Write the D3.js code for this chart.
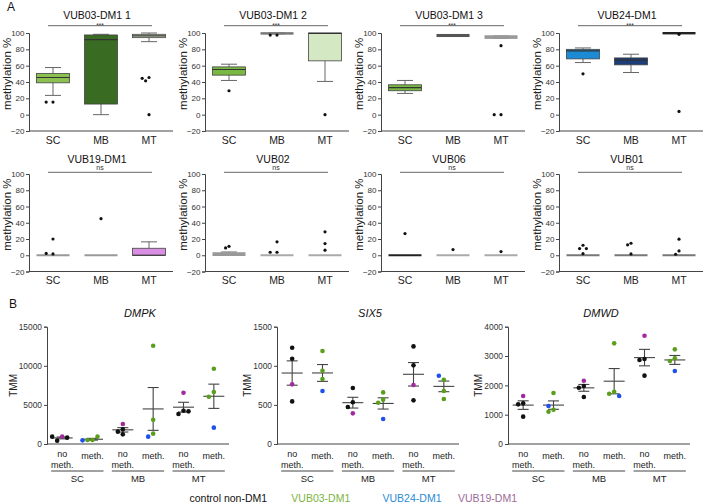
<!DOCTYPE html>
<html><head><meta charset="utf-8">
<script src="https://cdn.jsdelivr.net/npm/d3@7"></script>
<style>body{margin:0;background:#fff;} text{font-family:"Liberation Sans",Arial,sans-serif;}</style>
</head><body><svg id="c" width="709" height="504"></svg>
<script>
// ---------- Panel A data ----------
const catsA = ["SC","MB","MT"];
const titlesA = ["VUB03-DM1 1","VUB03-DM1 2","VUB03-DM1 3","VUB24-DM1","VUB19-DM1","VUB02","VUB06","VUB01"];
const sigA = ["***","***","***","***","ns","ns","ns","ns"];
const ticksA = [-20,0,20,40,60,80,100];
// [whiskerLow, q1, median, q3, whiskerHigh] for SC, MB, MT
const boxA = [
  [[23.6,39,45.5,50.4,57.7],[0,13,92,97.6,98.4],[89.4,94.3,96.5,98.4,100]],
  [[41.9,48.4,55.3,58.5,61.8],[99,99.2,99.5,99.8,100],[40.7,65.9,99.5,100,100]],
  [[26,29.3,33,36.6,41.9],[96,96.3,97,97.6,97.8],[93.5,94,95,96,96.3]],
  [[63.8,68.3,78,80,81.7],[51.6,61,66.7,69.5,74],[99.5,99.5,100,100,100]],
  [[0,0,0,0,0],[0,0,0,0,0],[0,0,0,8.6,16.5]],
  [[0,0.3,1,2.5,4],[0,0,0,0,0],[0,0,0,0,0]],
  [[0,0,0,0,0],[0,0,0,0,0],[0,0,0,0,0]],
  [[0,0,0,0,0],[0,0,0,0,0],[0,0,0,0,0]]
];
const outA = [
  [[15.4,15.4],[],[45.5,44.5,41.5,0]],
  [[29.3],[97.5,97.5],[0]],
  [[],[],[84.5,0,0]],
  [[50],[],[98.4,4]],
  [[20,1.6,2.2],[45],[]],
  [[11,9],[16.5,3.7,3.7],[28.8,14.4,6.2]],
  [[26.7],[7],[4.5]],
  [[12.3,8.2,8.2,2],[14.8,12.8,1.6],[19.8,5.3,1.2]]
];
const boxFillA = [
  ["#8cc152","#3a6b22","#d5e8c4"],
  ["#78b843","#777777","#d5e8c4"],
  ["#78b843","#555555","#999999"],
  ["#1b8bd6","#1b3d78","#222222"],
  ["#999999","#999999","#d98fe3"],
  ["#999999","#aaaaaa","#aaaaaa"],
  ["#222222","#aaaaaa","#aaaaaa"],
  ["#777777","#777777","#777777"]
];

// ---------- Panel B data ----------
const genes = ["DMPK","SIX5","DMWD"];
const groupsB = ["SC","MB","MT"];
const condB = ["no meth.","meth."];
const yMaxB = [15000,1500,4000];
const yTicksB = [[0,5000,10000,15000],[0,500,1000,1500],[0,1000,2000,3000,4000]];
const linesNoMeth = ["VUB19-DM1","control non-DM1","control non-DM1","control non-DM1"];
const linesMeth = ["VUB03-DM1","VUB03-DM1","VUB03-DM1","VUB24-DM1"];
// order: SC no, SC meth, MB no, MB meth, MT no, MT meth
const dmpk = [[937,426,810,937],[511,511,937,469],[2557,1236,1577,1875],[12570,3110,1321,937],[6562,4261,3835,4176],[9630,6647,6051,2088]];
const six5 = [[763,1231,1091,545],[1189,937,831,677],[392,716,533,473],[660,567,528,320],[754,1248,1006,558],[822,677,575,873]];
const dmwd = [[1636,1386,1352,932],[1739,1170,1102,1295],[2159,1977,1920,1602],[3432,1784,1716,1636],[3693,2898,2864,2330],[3227,2920,2830,2489]];
const valuesB = [dmpk, six5, dmwd];
const legendLines = ["control non-DM1","VUB03-DM1","VUB24-DM1","VUB19-DM1"];
const pointColor = {"control non-DM1":"#111111","VUB03-DM1":"#5a9e1c","VUB24-DM1":"#1f50ee","VUB19-DM1":"#a02a9e"};
const legendColor = {"control non-DM1":"#111111","VUB03-DM1":"#7cb342","VUB24-DM1":"#2b8ad6","VUB19-DM1":"#9e6a99"};

const svg = d3.select("#c");

function dodge(vals, y, cx, r, step){
  const placed = [];
  return vals.map(v => {
    const py = y(v);
    for (let k = 0; k < 30; k++) {
      const off = k === 0 ? 0 : (k % 2 ? -1 : 1) * Math.ceil(k/2) * step;
      const px = cx + off;
      if (placed.every(p => Math.hypot(p[0]-px, p[1]-py) >= 2*r + 0.3)) { placed.push([px,py]); return [px,py]; }
    }
    return [cx, py];
  });
}

function styleAxis(g){
  g.select(".domain").attr("stroke","#444");
  g.selectAll(".tick line").attr("stroke","#444");
  g.selectAll(".tick text").attr("fill","#333");
}

// ---------- Panel A ----------
const axXA = [29,205,381,559];
const rowYA = [[131,33],[271.5,174]];
const titleYA = [19,162.5], lineYA = [25.7,172.3];

svg.append("text").attr("x",7).attr("y",11).attr("font-size",12).attr("fill","#111").text("A");

titlesA.forEach((t,i) => {
  const row = Math.floor(i/4), col = i%4, x0 = axXA[col];
  const x = d3.scaleBand().domain(catsA).range([x0, x0+144]).paddingInner(0.3125).paddingOuter(0.156);
  const y = d3.scaleLinear().domain([-20,100]).range(rowYA[row]);
  const g = svg.append("g");
  const ya = g.append("g").attr("transform",`translate(${x0},0)`)
    .call(d3.axisLeft(y).tickValues(ticksA).tickSize(3).tickPadding(1.5));
  ya.selectAll(".tick text").attr("font-size",8).attr("font-family","Liberation Sans, Arial, sans-serif");
  styleAxis(ya);
  g.append("line").attr("x1",x0).attr("x2",x0+144).attr("y1",y(-20)).attr("y2",y(-20)).attr("stroke","#444");
  catsA.forEach(c => g.append("text").attr("x",x(c)+x.bandwidth()/2).attr("y",y(-20)+12.5)
    .attr("text-anchor","middle").attr("font-size",10.5).attr("fill","#222").text(c));
  g.append("text").attr("transform",`translate(${x0-18},${(y(0)+y(100))/2}) rotate(-90)`)
    .attr("text-anchor","middle").attr("font-size",11.5).attr("fill","#222").text("methylation %");
  g.append("text").attr("x",x0+68).attr("y",titleYA[row]).attr("text-anchor","middle")
    .attr("font-size",10.5).attr("fill","#111").text(t);
  const bx1 = x("SC")+x.bandwidth()/2-5, bx2 = x("MT")+x.bandwidth()/2+3;
  g.append("line").attr("x1",bx1).attr("x2",bx2).attr("y1",lineYA[row]).attr("y2",lineYA[row]).attr("stroke","#666");
  g.append("text").attr("x",(bx1+bx2)/2).attr("y",row===0?lineYA[row]+1.8:lineYA[row]-2)
    .attr("text-anchor","middle").attr("font-size",row===0?6.5:7).attr("fill","#333").text(sigA[i]);
  catsA.forEach((c,j) => {
    const [lo,q1,md,q3,hi] = boxA[i][j];
    const bx = x(c), bw = x.bandwidth(), cx = bx + bw/2;
    const fill = boxFillA[i][j];
    if (hi > q3) {
      g.append("line").attr("x1",cx).attr("x2",cx).attr("y1",y(q3)).attr("y2",y(hi)).attr("stroke","#666");
      g.append("line").attr("x1",cx-8).attr("x2",cx+8).attr("y1",y(hi)).attr("y2",y(hi)).attr("stroke","#666");
    }
    if (lo < q1) {
      g.append("line").attr("x1",cx).attr("x2",cx).attr("y1",y(q1)).attr("y2",y(lo)).attr("stroke","#666");
      g.append("line").attr("x1",cx-8).attr("x2",cx+8).attr("y1",y(lo)).attr("y2",y(lo)).attr("stroke","#666");
    }
    const h = y(q1) - y(q3);
    if (h > 2) {
      g.append("rect").attr("x",bx).attr("y",y(q3)).attr("width",bw).attr("height",h)
        .attr("fill",fill).attr("stroke","#444").attr("stroke-width",0.8);
      g.append("line").attr("x1",bx).attr("x2",bx+bw).attr("y1",y(md)).attr("y2",y(md)).attr("stroke","#333").attr("stroke-width",1.2);
    } else {
      g.append("rect").attr("x",bx).attr("y",y(q3)-1).attr("width",bw).attr("height",Math.max(h,0)+2).attr("fill",fill);
    }
    dodge(outA[i][j], y, cx, 1.6, 3.4).forEach(p =>
      g.append("circle").attr("cx",p[0]).attr("cy",p[1]).attr("r",1.6).attr("fill","#111"));
  });
});

// ---------- Panel B ----------
svg.append("text").attr("x",9).attr("y",308).attr("font-size",12).attr("fill","#111").text("B");
const axXB = [47,277,508];
const keysB = groupsB.flatMap(gp => condB.map(cd => gp+"|"+cd));
genes.forEach((gene,gi) => {
  const x0 = axXB[gi];
  const x = d3.scaleBand().domain(keysB).range([x0, x0+182]);
  const y = d3.scaleLinear().domain([0,yMaxB[gi]]).range([444,326.7]);
  const g = svg.append("g");
  const ya = g.append("g").attr("transform",`translate(${x0},0)`)
    .call(d3.axisLeft(y).tickValues(yTicksB[gi]).tickSize(3).tickPadding(2).tickFormat(d3.format("d")));
  ya.selectAll(".tick text").attr("font-size",8.4).attr("font-family","Liberation Sans, Arial, sans-serif");
  styleAxis(ya);
  g.append("line").attr("x1",x0).attr("x2",x0+182).attr("y1",y(0)).attr("y2",y(0)).attr("stroke","#444");
  g.append("text").attr("x",x0+93).attr("y",317).attr("text-anchor","middle").attr("font-size",11)
    .attr("font-style","italic").attr("fill","#111").text(gene);
  g.append("text").attr("transform",`translate(${x0-(gi===0?34:30)+3.5},${(y(0)+y(yMaxB[gi]))/2}) rotate(-90)`)
    .attr("text-anchor","middle").attr("font-size",10).attr("fill","#222").text("TMM");
  keysB.forEach((k,ki) => {
    const cx = x(k) + x.bandwidth()/2;
    const [gp, cd] = k.split("|");
    const words = cd.split(" ");
    words.forEach((w,wi) => g.append("text").attr("x",cx).attr("y",(words.length>1&&wi===0?456.5:458.5)+wi*9)
      .attr("text-anchor","middle").attr("font-size",9).attr("fill","#222").text(w));
    const vals = valuesB[gi][ki];
    const lines = cd === "meth." ? linesMeth : linesNoMeth;
    const m = d3.mean(vals), se = d3.deviation(vals)/Math.sqrt(vals.length);
    const ec = "#444";
    g.append("line").attr("x1",cx-10.5).attr("x2",cx+10.5).attr("y1",y(m)).attr("y2",y(m)).attr("stroke",ec).attr("stroke-width",1.1);
    g.append("line").attr("x1",cx).attr("x2",cx).attr("y1",y(m-se)).attr("y2",y(m+se)).attr("stroke",ec).attr("stroke-width",1.1);
    [m-se,m+se].forEach(v => g.append("line").attr("x1",cx-5.5).attr("x2",cx+5.5).attr("y1",y(v)).attr("y2",y(v)).attr("stroke",ec).attr("stroke-width",1.1));
    dodge(vals, y, cx, 2.3, 5).forEach((p,pi) =>
      g.append("circle").attr("cx",p[0]).attr("cy",p[1]).attr("r",2.3).attr("fill",pointColor[lines[pi]]));
  });
  groupsB.forEach(gp => {
    const c1 = x(gp+"|no meth.") + x.bandwidth()/2, c2 = x(gp+"|meth.") + x.bandwidth()/2;
    g.append("line").attr("x1",c1-11).attr("x2",c2+11).attr("y1",471).attr("y2",471).attr("stroke","#444");
    g.append("text").attr("x",(c1+c2)/2).attr("y",482).attr("text-anchor","middle").attr("font-size",9.5)
      .attr("fill","#222").text(gp);
  });
});

// legend
const legendX = [228.3,320.8,412,487.5];
legendLines.forEach((l,i) => svg.append("text").attr("x",legendX[i]).attr("y",502).attr("text-anchor","middle")
  .attr("font-size",10.5).attr("fill",legendColor[l]).text(l));
</script></body></html>
